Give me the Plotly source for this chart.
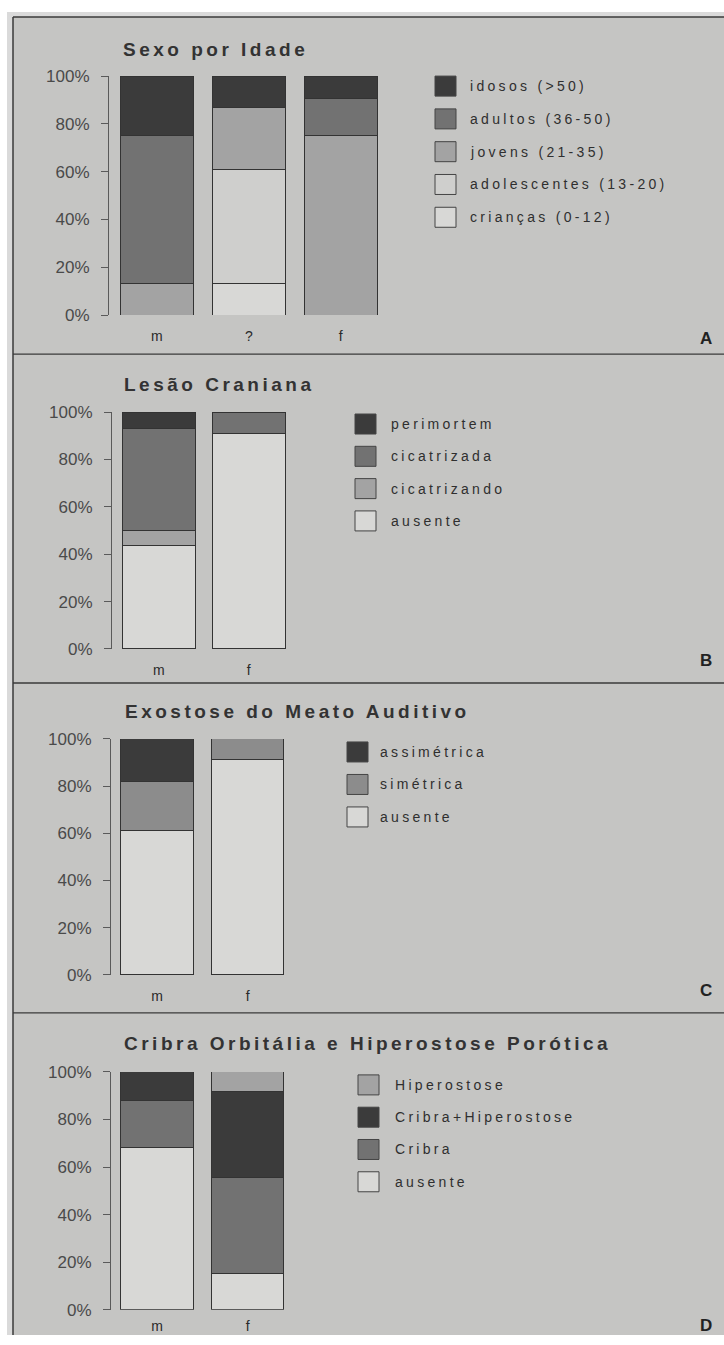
import plotly.graph_objects as go

# ---------------- data ----------------
cats_A = ["m", "?", "f"]
A_criancas = [0, 13.4, 0]
A_adolescentes = [0, 47.7, 0]
A_jovens = [13.4, 25.9, 75.3]
A_adultos = [61.9, 0, 15.5]
A_idosos = [24.7, 13.0, 9.2]
A_labels = ["crianças (0-12)", "adolescentes (13-20)", "jovens (21-35)", "adultos (36-50)", "idosos (>50)"]

cats_B = ["m", "f"]
B_ausente = [43.6, 91.0]
B_cicatrizando = [6.2, 0]
B_cicatrizada = [43.3, 9.0]
B_perimortem = [6.9, 0]
B_labels = ["ausente", "cicatrizando", "cicatrizada", "perimortem"]

cats_C = ["m", "f"]
C_ausente = [61.0, 91.4]
C_simetrica = [20.9, 8.6]
C_assimetrica = [18.1, 0]
C_labels = ["ausente", "simétrica", "assimétrica"]

cats_D = ["m", "f"]
D_ausente = [68.2, 15.4]
D_cribra = [19.6, 40.2]
D_cribra_hip = [12.2, 36.0]
D_hiperostose = [0, 8.4]
D_labels = ["ausente", "Cribra", "Cribra+Hiperostose", "Hiperostose"]

titles = ["Sexo por Idade", "Lesão Craniana", "Exostose do Meato Auditivo",
          "Cribra Orbitália e Hiperostose Porótica"]
panel_letters = ["A", "B", "C", "D"]

# ---------------- style ----------------
W, H = 724, 1345
FONT = "Liberation Sans, Arial, sans-serif"
BG = "#c5c5c3"
DARK = "#3b3b3b"
MID = "#727272"
MIDL = "#8c8c8c"
LIGHT = "#a3a3a3"
PALE = "#cfcfcd"
WHITE = "#d8d8d6"
EDGE = "#333333"

# page offset / capture compensation (page adds ~8px above, ~11px below)
Y_OFF = 8.0
Y_SCALE = 1364.0 / 1345.0

def fx(px):
    return px / W

def fy(py):
    return 1 - (py * Y_SCALE - Y_OFF) / H

panels = [
    dict(cats=cats_A, series=[A_criancas, A_adolescentes, A_jovens, A_adultos, A_idosos],
         labels=A_labels, colors=[WHITE, PALE, LIGHT, MID, DARK],
         xdom=(109, 386.8), xr=(-0.52, 2.5), ydom=(75, 314), bw=0.79,
         title_xy=(121, 48), leg_box_x=435, leg_text_x=468, leg_y0=85, leg_dy=32.8,
         letter_y=337, xstand=11),
    dict(cats=cats_B, series=[B_ausente, B_cicatrizando, B_cicatrizada, B_perimortem],
         labels=B_labels, colors=[WHITE, LIGHT, MID, DARK],
         xdom=(112, 293.8), xr=(-0.52, 1.5), ydom=(411, 648), bw=0.81,
         title_xy=(122, 383), leg_box_x=355, leg_text_x=389, leg_y0=423, leg_dy=32.3,
         letter_y=660, xstand=11),
    dict(cats=cats_C, series=[C_ausente, C_simetrica, C_assimetrica],
         labels=C_labels, colors=[WHITE, MIDL, DARK],
         xdom=(111, 292.9), xr=(-0.51, 1.5), ydom=(738, 974), bw=0.80,
         title_xy=(123, 711), leg_box_x=347, leg_text_x=378, leg_y0=751, leg_dy=32.5,
         letter_y=990, xstand=11),
    dict(cats=cats_D, series=[D_ausente, D_cribra, D_cribra_hip, D_hiperostose],
         labels=D_labels, colors=[WHITE, MID, DARK, LIGHT],
         xdom=(111, 292.9), xr=(-0.51, 1.5), ydom=(1071, 1309), bw=0.80,
         title_xy=(122, 1043), leg_box_x=358, leg_text_x=393, leg_y0=1084, leg_dy=32.3,
         letter_y=1325, xstand=6),
]

fig = go.Figure()
shapes = []
annotations = []

# frame
shapes.append(dict(type="rect", xref="paper", yref="paper",
                   x0=fx(7), x1=1, y0=0, y1=fy(11),
                   fillcolor="#dadada", line=dict(width=0), layer="below"))
shapes.append(dict(type="rect", xref="paper", yref="paper",
                   x0=fx(13), x1=1, y0=0, y1=fy(16),
                   fillcolor=BG, line=dict(width=0), layer="below"))
shapes.append(dict(type="line", xref="paper", yref="paper",
                   x0=fx(13), x1=fx(13), y0=0, y1=fy(16),
                   line=dict(color="#3a3a3a", width=1.5)))
shapes.append(dict(type="line", xref="paper", yref="paper",
                   x0=fx(13), x1=1, y0=fy(16), y1=fy(16),
                   line=dict(color="#3a3a3a", width=1.5)))
for sy in [353, 682, 1012]:
    shapes.append(dict(type="line", xref="paper", yref="paper",
                       x0=fx(13), x1=1, y0=fy(sy), y1=fy(sy),
                       line=dict(color="#3a3a3a", width=1.3)))

layout_axes = {}
for i, p in enumerate(panels):
    n = i + 1
    xa = "x" if n == 1 else f"x{n}"
    ya = "y" if n == 1 else f"y{n}"
    xkey = "xaxis" if n == 1 else f"xaxis{n}"
    ykey = "yaxis" if n == 1 else f"yaxis{n}"
    for vals, lab, col in zip(p["series"], p["labels"], p["colors"]):
        fig.add_trace(go.Bar(
            x=p["cats"], y=vals, name=lab, xaxis=xa, yaxis=ya,
            width=[p["bw"]] * len(p["cats"]),
            marker=dict(color=col, line=dict(color=EDGE, width=1)),
            showlegend=False, hoverinfo="x+y+name"))
    layout_axes[xkey] = dict(
        domain=[fx(p["xdom"][0]), fx(p["xdom"][1])], anchor=ya,
        range=list(p["xr"]), type="category", showline=False, showgrid=False,
        zeroline=False, ticks="", ticklabelstandoff=p["xstand"],
        tickfont=dict(family=FONT, size=14, color="#2a2a2a"), fixedrange=True)
    layout_axes[ykey] = dict(
        domain=[fy(p["ydom"][1]), fy(p["ydom"][0])], anchor=xa,
        range=[0, 100], tickmode="linear", tick0=0, dtick=20, ticksuffix="%",
        showline=True, linecolor="#5a5a5a", linewidth=1,
        ticks="outside", ticklen=7, tickcolor="#5a5a5a", tickwidth=1,
        ticklabelstandoff=8, showgrid=False, zeroline=False,
        tickfont=dict(family=FONT, size=17, color="#4a4a4a"), fixedrange=True)

    annotations.append(dict(
        xref="paper", yref="paper", x=fx(p["title_xy"][0]), y=fy(p["title_xy"][1]),
        xanchor="left", yanchor="middle", showarrow=False,
        text=f'<span style="letter-spacing:3.5px"><b>{titles[i]}</b></span>',
        font=dict(family=FONT, size=19, color="#333333")))

    order = list(range(len(p["labels"])))[::-1]
    for k, idx in enumerate(order):
        cy = p["leg_y0"] + k * p["leg_dy"]
        shapes.append(dict(type="rect", xref="paper", yref="paper",
                           x0=fx(p["leg_box_x"]), x1=fx(p["leg_box_x"] + 21),
                           y0=fy(cy + 10), y1=fy(cy - 10),
                           fillcolor=p["colors"][idx], line=dict(color="#444444", width=1)))
        annotations.append(dict(
            xref="paper", yref="paper", x=fx(p["leg_text_x"]), y=fy(cy),
            xanchor="left", yanchor="middle", showarrow=False,
            text=f'<span style="letter-spacing:3.3px">{p["labels"][idx]}</span>',
            font=dict(family=FONT, size=14, color="#2f2f2f")))

    annotations.append(dict(
        xref="paper", yref="paper", x=fx(714), y=fy(p["letter_y"]),
        xanchor="right", yanchor="middle", showarrow=False,
        text=f"<b>{panel_letters[i]}</b>",
        font=dict(family=FONT, size=17, color="#222222")))

fig.update_layout(
    width=W, height=H, margin=dict(l=0, r=0, t=0, b=0),
    paper_bgcolor="white", plot_bgcolor="rgba(0,0,0,0)",
    barmode="stack", showlegend=False,
    shapes=shapes, annotations=annotations,
    **layout_axes)

post = (
    "document.documentElement.style.margin='0';"
    "document.body.style.margin='0';"
    "document.documentElement.style.overflow='hidden';"
    "document.body.style.overflow='hidden';"
    "document.documentElement.style.background="
    "'linear-gradient(to right, #ffffff 13px, " + BG + " 13px)';"
    "document.body.style.background='transparent';"
    "var gd=document.getElementById('{plot_id}');"
    "gd.style.position='fixed';gd.style.top='0px';gd.style.left='0px';"
)
fig.write_html("out.html", config={"displayModeBar": False}, post_script=post)
